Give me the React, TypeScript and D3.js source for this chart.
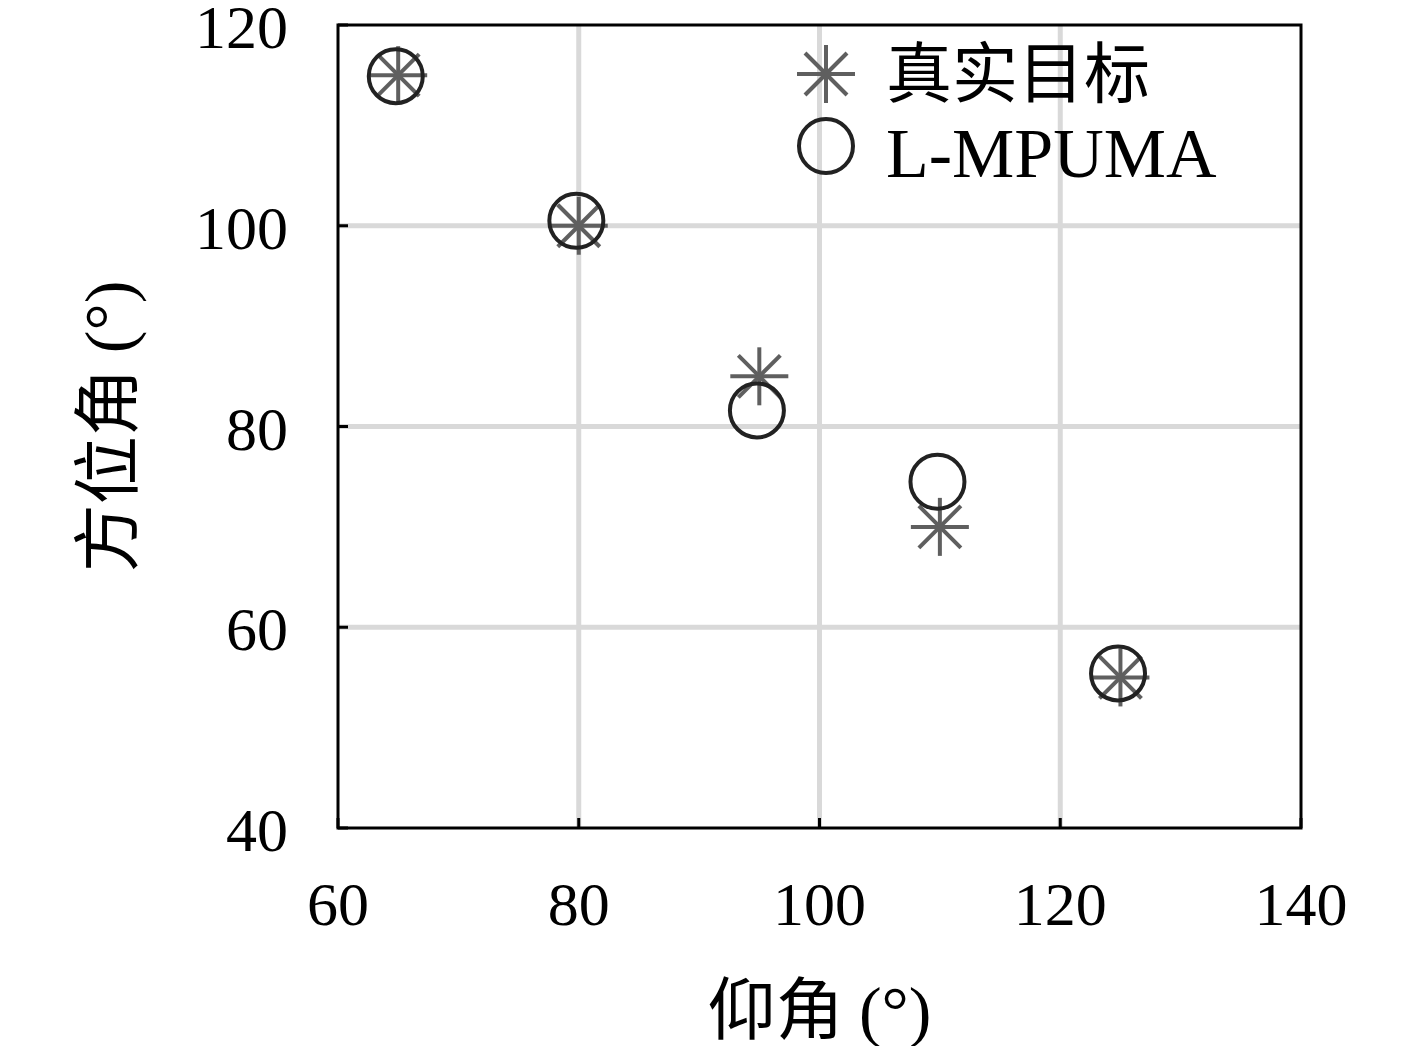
import React, { useEffect, useRef } from 'react';
import * as d3 from 'd3';

// 仰角 / 方位角 of the true targets and the L-MPUMA estimates
const trueElev = [65, 80, 95, 110, 125];
const trueAzim = [115, 100, 85, 70, 55];
const estElev = [64.8, 79.8, 94.8, 109.8, 124.8];
const estAzim = [114.9, 100.5, 81.6, 74.5, 55.4];

const xTicks = [60, 80, 100, 120, 140];
const yTicks = [40, 60, 80, 100, 120];
const legendLabels = ['真实目标', 'L-MPUMA'];

const serif = '"Liberation Serif", "DejaVu Serif", serif';
const cjk = '"Noto Sans CJK SC", "Liberation Serif", serif';

const App = () => {
    const ref = useRef<SVGSVGElement | null>(null);

    useEffect(() => {
        const width = 1417;
        const height = 1054;
        const margin = { top: 25, right: 116, bottom: 226, left: 338 };

        const svg = d3.select(ref.current);
        svg.selectAll('*').remove();

        const x = d3.scaleLinear().domain([60, 140]).range([margin.left, width - margin.right]);
        const y = d3.scaleLinear().domain([40, 120]).range([height - margin.bottom, margin.top]);

        // grid
        const grid = svg.append('g');
        grid.selectAll('line.gx')
            .data(xTicks.slice(1, -1))
            .enter()
            .append('line')
            .attr('x1', (d) => x(d)).attr('x2', (d) => x(d))
            .attr('y1', y(40)).attr('y2', y(120))
            .attr('stroke', '#d9d9d9').attr('stroke-width', 5);
        grid.selectAll('line.gy')
            .data(yTicks.slice(1, -1))
            .enter()
            .append('line')
            .attr('x1', x(60)).attr('x2', x(140))
            .attr('y1', (d) => y(d)).attr('y2', (d) => y(d))
            .attr('stroke', '#d9d9d9').attr('stroke-width', 5);

        // inner ticks
        const ticks = svg.append('g').attr('stroke', '#000').attr('stroke-width', 3);
        xTicks.forEach((t) => {
            ticks.append('line')
                .attr('x1', x(t)).attr('x2', x(t))
                .attr('y1', y(40)).attr('y2', y(40) - 10);
        });
        yTicks.forEach((t) => {
            ticks.append('line')
                .attr('x1', x(60)).attr('x2', x(60) + 10)
                .attr('y1', y(t)).attr('y2', y(t));
        });

        // box
        svg.append('rect')
            .attr('x', x(60)).attr('y', y(120))
            .attr('width', x(140) - x(60)).attr('height', y(40) - y(120))
            .attr('fill', 'none').attr('stroke', '#000').attr('stroke-width', 3);

        // tick labels
        svg.append('g').selectAll('text')
            .data(xTicks)
            .enter()
            .append('text')
            .attr('x', (d) => x(d))
            .attr('y', 925)
            .attr('text-anchor', 'middle')
            .attr('font-family', serif)
            .attr('font-size', 62)
            .text((d) => d);
        svg.append('g').selectAll('text')
            .data(yTicks)
            .enter()
            .append('text')
            .attr('x', 288)
            .attr('y', (d) => y(d) + 23)
            .attr('text-anchor', 'end')
            .attr('font-family', serif)
            .attr('font-size', 62)
            .text((d) => d);

        // axis titles
        const xt = svg.append('text')
            .attr('x', x(100))
            .attr('y', 1034)
            .attr('text-anchor', 'middle')
            .attr('font-size', 68);
        xt.append('tspan').attr('font-family', cjk).text('仰角 ');
        xt.append('tspan').attr('font-family', serif).text('(°)');

        const yt = svg.append('text')
            .attr('transform', `translate(132, ${y(80)}) rotate(-90)`)
            .attr('text-anchor', 'middle')
            .attr('font-size', 68);
        yt.append('tspan').attr('font-family', cjk).text('方位角 ');
        yt.append('tspan').attr('font-family', serif).text('(°)');

        const star = (g: any, cx: number, cy: number) => {
            const r = 29;
            const rd = 21;
            const s = g.append('g').attr('stroke', '#5f5f5f').attr('stroke-width', 4);
            s.append('line').attr('x1', cx - r).attr('x2', cx + r).attr('y1', cy).attr('y2', cy);
            s.append('line').attr('x1', cx).attr('x2', cx).attr('y1', cy - r).attr('y2', cy + r);
            s.append('line').attr('x1', cx - rd).attr('x2', cx + rd).attr('y1', cy - rd).attr('y2', cy + rd);
            s.append('line').attr('x1', cx - rd).attr('x2', cx + rd).attr('y1', cy + rd).attr('y2', cy - rd);
        };
        const ring = (g: any, cx: number, cy: number) => {
            g.append('circle')
                .attr('cx', cx).attr('cy', cy).attr('r', 27)
                .attr('fill', 'none').attr('stroke', '#222').attr('stroke-width', 4);
        };

        const marks = svg.append('g');
        trueElev.forEach((e, i) => star(marks, x(e), y(trueAzim[i])));
        estElev.forEach((e, i) => ring(marks, x(e), y(estAzim[i])));

        // legend
        const lg = svg.append('g');
        star(lg, 826, 74);
        ring(lg, 826, 146);
        lg.append('text')
            .attr('x', 886).attr('y', 97)
            .attr('font-family', cjk)
            .attr('font-size', 66)
            .text(legendLabels[0]);
        lg.append('text')
            .attr('x', 886).attr('y', 177)
            .attr('font-family', serif)
            .attr('font-size', 70)
            .text(legendLabels[1]);
    }, []);

    return <svg ref={ref} width={1417} height={1054} style={{ display: 'block', margin: -8 }} />;
};

export default App;
